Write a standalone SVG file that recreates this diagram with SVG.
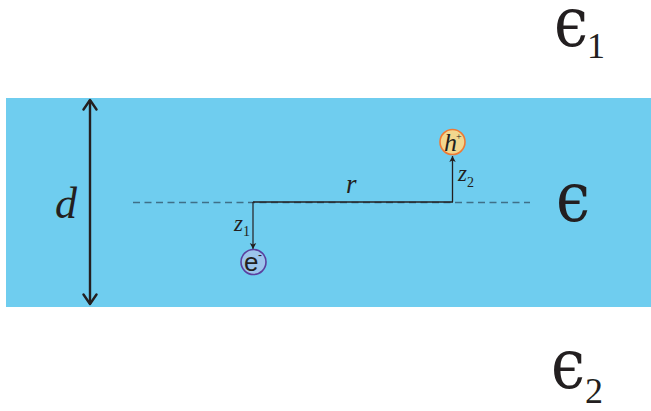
<svg xmlns="http://www.w3.org/2000/svg" width="651" height="411" viewBox="0 0 651 411">
<style>
text{font-family:"Liberation Serif","DejaVu Serif",serif;fill:#231f20}
.i{font-style:italic}
.eps{font-family:"DejaVu Serif",serif;font-size:58px}
.sub{font-size:36px}
.z{font-size:23px}
.zs{font-size:14px}
.a{fill:none;stroke:#231f20;stroke-linecap:round;stroke-linejoin:round}
</style>
<defs>
<marker id="sm" markerUnits="userSpaceOnUse" markerWidth="8" markerHeight="8" refX="6" refY="4" orient="auto"><path d="M0 0.8L6 4L0 7.2L1.5 4Z" fill="#231f20"/></marker>
</defs>
<rect id="layer" x="6" y="98" width="645" height="209" fill="#6fcdef"/>
<g id="connectors">
<line x1="133" y1="202.500" x2="530" y2="202.500" stroke="#3f6f88" stroke-width="1.300" stroke-dasharray="7 4.500"/>
<line x1="253" y1="202" x2="453" y2="202" stroke="#231f20" stroke-width="1.600"/>
<line x1="253" y1="202" x2="253" y2="249" stroke="#231f20" stroke-width="1.200" marker-end="url(#sm)"/>
<line x1="452.500" y1="202" x2="452.500" y2="156" stroke="#231f20" stroke-width="1.300" marker-end="url(#sm)"/>
<line x1="90" y1="100" x2="90" y2="304" stroke="#231f20" stroke-width="2.400"/>
<path class="a" stroke-width="2.400" d="M83.500 109.500L90 100L96.500 109.500M83.500 294.500L90 304L96.500 294.500"/>
</g>
<g id="hole">
<circle cx="452.500" cy="142" r="12.500" fill="#f2d78e" stroke="#ee7a35" stroke-width="1.600"/>
<text class="i" x="444" y="151" font-size="26">h</text>
<text x="456" y="140" font-size="10">+</text>
</g>
<g id="electron">
<circle cx="253.500" cy="262" r="12.500" fill="#9cc4ec" stroke="#5a3f9e" stroke-width="1.600"/>
<text x="244" y="271" font-size="26" style="font-family:'Liberation Sans',sans-serif">e</text>
<text x="258" y="259" font-size="12" style="font-family:'Liberation Sans',sans-serif">-</text>
</g>
<g id="labels">
<text class="i" x="55" y="218" font-size="44">d</text>
<text class="i" x="346" y="193" font-size="27">r</text>
<text class="i z" x="234" y="231">z</text><text class="zs" x="243" y="236">1</text>
<text class="i z" x="458" y="181">z</text><text class="zs" x="467" y="187">2</text>
<text class="eps" transform="translate(554 45.500) scale(1.050 1.180)">ϵ</text><text class="sub" x="587" y="58">1</text>
<text class="eps" transform="translate(556 221) scale(1.050 1.180)">ϵ</text>
<text class="eps" transform="translate(551 388) scale(1.050 1.180)">ϵ</text><text class="sub" x="585" y="403">2</text>
</g>
</svg>
